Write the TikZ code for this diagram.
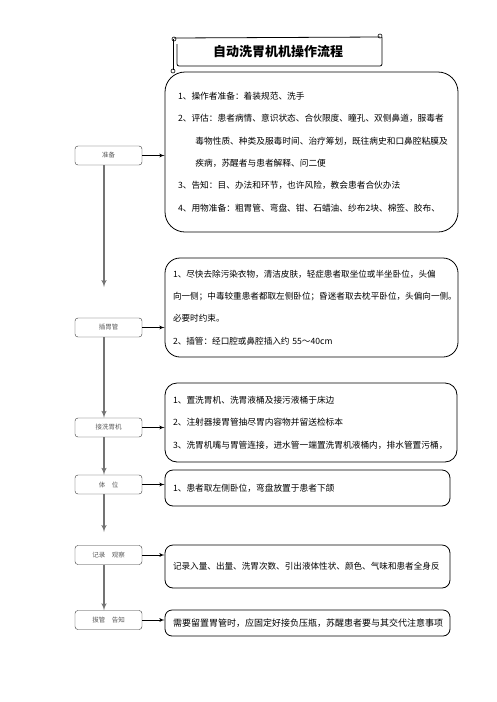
\documentclass[tikz,border=0pt]{standalone}
\usepackage{fontspec}
\setmainfont{Noto Sans CJK SC}
\usetikzlibrary{shapes,arrows}

\begin{document}
\begin{tikzpicture}[x=1pt, y=-1pt, auto]
  \tikzstyle{stage} = [rectangle, draw=black!80, rounded corners=3pt,
    minimum width=67pt, minimum height=19pt, inner sep=0pt, text=black!65,
    font=\fontsize{6.5}{8}\selectfont]
  \tikzstyle{block} = [rectangle, draw, line width=0.8pt, inner xsep=8pt,
    inner ysep=0pt, align=left, font=\fontsize{8.7}{22.3}\selectfont]
  \tikzstyle{line} = [draw, -latex', black!55, line width=1.4pt]
  \tikzstyle{link} = [draw, -latex', line width=0.8pt]

  \useasboundingbox (0,0) rectangle (496,702);

  % Title scroll
  \node [font=\fontsize{13}{15}\selectfont\bfseries] (title) at (278,52) {自动洗胃机机操作流程};
  \draw [line width=0.8pt, rounded corners=2pt] (177,44) -- (177,66) -- (382,66) -- (382,37);
  \draw [line width=0.8pt] (174,38) -- (380,37);
  \draw [line width=0.8pt] (173,39) -- (173,70);
  \draw [line width=0.6pt] (174,39) circle [radius=2pt];
  \draw [line width=0.6pt] (173,71) circle [radius=2pt];
  \draw [line width=0.6pt] (380,36) circle [radius=2pt];

  % Place nodes
  \node [stage] (prep) at (108.5,155.5) {准备};
  \node [stage] (tube) at (108.5,327.5) {插胃管};
  \node [stage] (wash) at (108.5,427.5) {接洗胃机};
  \node [stage] (pos) at (108.5,484.5) {体\quad 位};
  \node [stage] (rec) at (108.5,555) {记录\quad 观察};
  \node [stage] (pull) at (108.5,620) {拔管\quad 告知};
  \coordinate (prepend) at (104,287);
  \coordinate (posend) at (104,532);

  \node [block, minimum width=293pt, minimum height=160pt, rounded corners=20pt,
    inner xsep=13pt, text width=267pt] (prepinfo) at (311.5,152) {1、操作者准备：着装规范、洗手\\
    2、评估：患者病情、意识状态、合伙限度、瞳孔、双侧鼻道，服毒者\\
    \hspace*{2em}毒物性质、种类及服毒时间、治疗筹划，既往病史和口鼻腔粘膜及\\
    \hspace*{2em}疾病，苏醒者与患者解释、问二便\\
    3、告知：目、办法和环节，也许风险，教会患者合伙办法\\
    4、用物准备：粗胃管、弯盘、钳、石蜡油、纱布2块、棉签、胶布、};
  \node [block, minimum width=293pt, minimum height=99pt, rounded corners=15pt,
    text width=277pt, font=\fontsize{8.6}{22.3}\selectfont] (tubeinfo) at (311.5,307.5)
    {1、尽快去除污染衣物，清洁皮肤，轻症患者取坐位或半坐卧位，头偏\\
    向一侧；中毒较重患者都取左侧卧位；昏迷者取去枕平卧位，头偏向一侧。\\
    必要时约束。\\
    2、插管：经口腔或鼻腔插入约 55～40cm};
  \node [block, minimum width=292pt, minimum height=79pt, rounded corners=12pt,
    text width=276pt, font=\fontsize{8.7}{22.5}\selectfont] (washinfo) at (311,422.5)
    {1、置洗胃机、洗胃液桶及接污液桶于床边\\
    2、注射器接胃管抽尽胃内容物并留送检标本\\
    3、洗胃机嘴与胃管连接，进水管一端置洗胃机液桶内，排水管置污桶，};
  \node [block, minimum width=285pt, minimum height=36pt, rounded corners=8pt,
    text width=269pt] (posinfo) at (307.5,488) {1、患者取左侧卧位，弯盘放置于患者下颌};
  \node [block, minimum width=285pt, minimum height=43pt, rounded corners=8pt,
    text width=269pt, font=\fontsize{8.6}{10}\selectfont] (recinfo) at (307.5,566.5)
    {记录入量、出量、洗胃次数、引出液体性状、颜色、气味和患者全身反};
  \node [block, minimum width=285pt, minimum height=26pt, rounded corners=7pt,
    text width=269pt, font=\fontsize{9}{10}\selectfont] (pullinfo) at (307.5,623)
    {需要留置胃管时，应固定好接负压瓶，苏醒患者要与其交代注意事项};

  % Draw edges
  \path [line] ([xshift=-4.5pt]prep.south) -- (prepend);
  \path [line] ([xshift=-4.5pt]tube.south) -- ([xshift=-4.5pt]wash.north);
  \path [line] ([xshift=-4.5pt]wash.south) -- ([xshift=-4.5pt]pos.north);
  \path [line] ([xshift=-4.5pt]pos.south) -- (posend);
  \path [line] ([xshift=-4.5pt]rec.south) -- ([xshift=-4.5pt]pull.north);

  \path [link] (prep.east) -- (prep.east -| prepinfo.west);
  \path [link] (tube.east) -- (tube.east -| tubeinfo.west);
  \path [link] (wash.east) -- (wash.east -| washinfo.west);
  \path [link] (pos.east) -- (pos.east -| posinfo.west);
  \path [link] (rec.east) -- (rec.east -| recinfo.west);
  \path [link] (pull.east) -- (pull.east -| pullinfo.west);

\end{tikzpicture}
\end{document}
